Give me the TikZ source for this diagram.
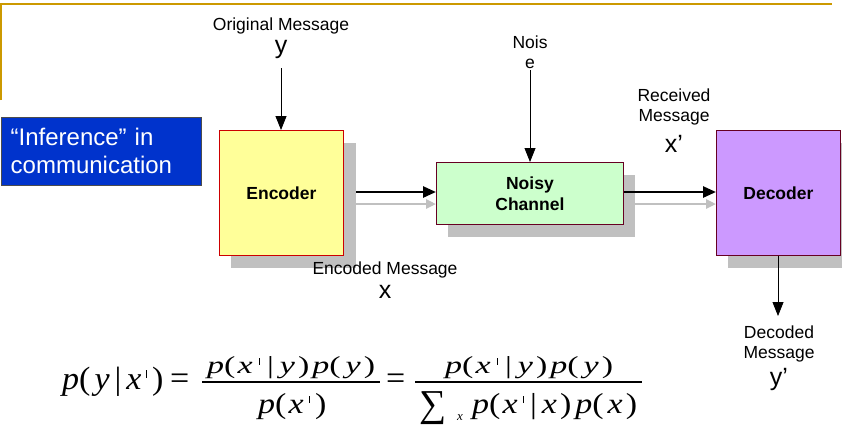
\documentclass[tikz,border=0pt]{standalone}
\usepackage{graphicx}
\usepackage{fontspec}
\setmainfont{Liberation Sans}
\newfontfamily\serifit{Liberation Serif}
\usetikzlibrary{arrows.meta}
\definecolor{rule}{HTML}{CC9900}
\definecolor{bluebox}{HTML}{0033CC}
\definecolor{encfill}{HTML}{FFFF99}
\definecolor{chanfill}{HTML}{CCFFCC}
\definecolor{decfill}{HTML}{CC99FF}
\definecolor{shadowgray}{HTML}{C0C0C0}
\definecolor{edge}{HTML}{660022}
% formula helpers
\newcommand\iv[1]{\textit{#1}}
\newcommand\gp[1]{\hspace{#1pt}}
\newcommand\tick{\rule[0.34em]{0.045em}{0.26em}}
\begin{document}
\begin{tikzpicture}[x=1pt,y=-1pt,
  block/.style={draw=edge, line width=0.8pt, font=\bfseries\fontsize{17.5}{21}\selectfont, align=center},
  label/.style={font=\fontsize{17.5}{20.5}\selectfont, align=center, inner sep=0pt},
  sym/.style={font=\fontsize{25}{28}\selectfont, inner sep=0pt},
  flow/.style={line width=2.6pt, -{Triangle[length=13pt,width=11pt]}},
  ghost/.style={shadowgray, line width=2.6pt, -{Triangle[length=10pt,width=9pt]}},
  feed/.style={line width=0.8pt, -{Triangle[length=14pt,width=11pt]}},
  eqn/.style={font=\serifit\fontsize{34}{38}\selectfont, inner sep=0pt, anchor=base west},
  fracbar/.style={line width=1.4pt}]
\useasboundingbox (0,0) rectangle (842,426);
\fill[white] (0,0) rectangle (842,426);

% title rule
\draw[rule, line width=2pt] (1,100) -- (1,4) -- (832,4);

% caption box
\node[draw=black!70, fill=bluebox, minimum width=200pt, minimum height=68pt, anchor=north west,
      text=white, font=\fontsize{24}{28}\selectfont, align=left, text width=190pt, inner sep=0pt]
      (title) at (0.5,116.5) {\hspace*{5pt}“Inference” in\\\hspace*{5pt}communication};

% drop shadows
\fill[shadowgray] (231,143) rectangle (356,268);
\fill[shadowgray] (448,175) rectangle (635,237);
\fill[shadowgray] (728,143) rectangle (842,268);

% blocks
\node[block, fill=encfill, draw=red!80!black, minimum width=124pt, minimum height=125pt, anchor=north west]
  (enc) at (219,130) {Encoder};
\node[block, fill=chanfill, minimum width=187pt, minimum height=62pt, anchor=north west]
  (chan) at (436,162) {Noisy\\Channel};
\node[block, fill=decfill, minimum width=124pt, minimum height=125pt, anchor=north west]
  (dec) at (716,130) {Decoder};

% shadow arrows
\coordinate (g1s) at (356,204);
\coordinate (g2s) at (635,204);
\draw[ghost] (g1s) -- (chan.west |- g1s);
\draw[ghost] (g2s) -- (dec.west |- g2s);

% main flow
\coordinate (f1s) at (356,192);
\coordinate (f2e) at (716,192);
\draw[flow] (f1s) -- (chan.west |- f1s);
\draw[flow] (chan.east |- f2e) -- (f2e);

% labels
\node[label] (orig) at (281,26) {Original Message};
\node[sym] (ysym) at (281,49) {y};
\node[label] (noise) at (530,52) {Nois\\e};
\node[label] (recv) at (674,107) {Received\\Message};
\node[sym] (xp) at (674,144) {x’};
\node[label] (encm) at (385,270) {Encoded Message};
\node[sym] (xsym) at (385,292) {x};
\node[label] (decm) at (779,344) {Decoded\\Message};
\node[sym] (yp) at (779,379) {y’};

% input/output arrows
\coordinate (yin) at (281,68);
\coordinate (nin) at (530,70);
\coordinate (yout) at (778,316);
\draw[feed] (yin) -- (enc.north -| yin);
\draw[feed] (nin) -- (chan.north -| nin);
\draw[feed] (dec.south -| yout) -- (yout);

% Bayes rule
\node[eqn] (lhs) at (62,389)
  {\scalebox{1}[0.95]{\iv{p}(\gp{4}\iv{y}\gp{5}|\gp{5}\iv{x}\gp{4}\tick\gp{5})}};
\node[eqn] (eqa) at (170,389) {=};
\node[eqn] (numa) at (207,373)
  {\scalebox{1}[0.72]{\iv{p}(\gp{2}\iv{x}\gp{6}\tick\gp{7}|\gp{6}\iv{y}\gp{3})\gp{3}\iv{p}(\gp{5}\iv{y}\gp{3})}};
\node[eqn] (dena) at (258,413)
  {\scalebox{1}[0.85]{\iv{p}(\gp{2}\iv{x}\gp{5}\tick\gp{5})}};
\node[eqn] (eqb) at (386,389) {=};
\node[eqn] (numb) at (445,373)
  {\scalebox{1}[0.72]{\iv{p}(\gp{2}\iv{x}\gp{6}\tick\gp{7}|\gp{6}\iv{y}\gp{3})\gp{3}\iv{p}(\gp{5}\iv{y}\gp{3})}};
\node[eqn, font=\serifit\fontsize{38}{38}\selectfont] (sig) at (419,416) {∑};
\node[eqn, font=\serifit\itshape\fontsize{13}{14}\selectfont] (sigx) at (457,420) {x};
\node[eqn] (denb) at (472,413)
  {\scalebox{1}[0.85]{\iv{p}(\gp{2}\iv{x}\gp{5}\tick\gp{6}|\gp{5}\iv{x}\gp{3})\gp{4}\iv{p}(\gp{4}\iv{x}\gp{3})}};
\coordinate (bara) at (202,382);
\coordinate (barb) at (415,382);
\draw[fracbar] (bara) -- ++(178,0);
\draw[fracbar] (barb) -- ++(227,0);
\end{tikzpicture}
\end{document}
